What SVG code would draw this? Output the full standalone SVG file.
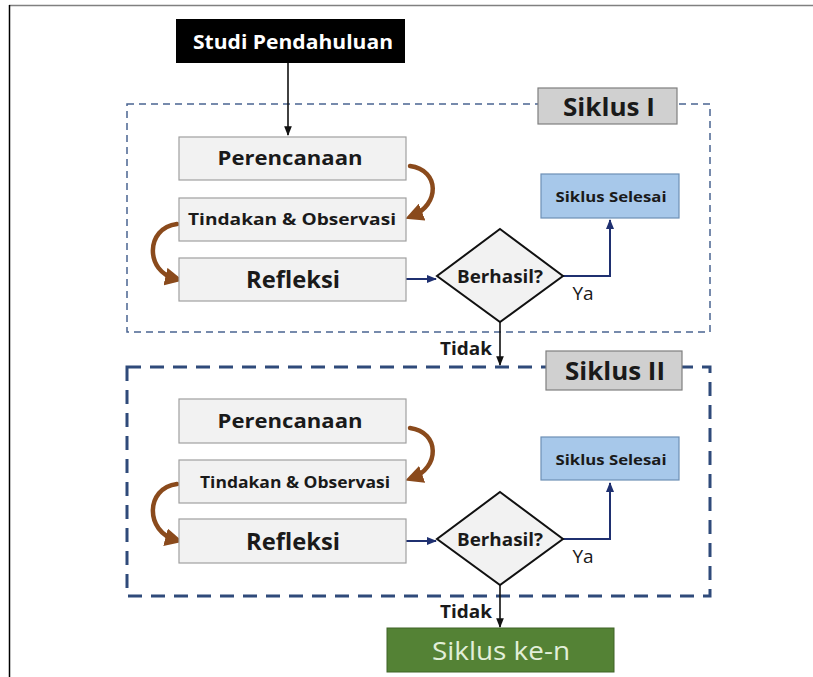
<svg xmlns="http://www.w3.org/2000/svg" width="813" height="677" viewBox="0 0 813 677">
<defs>
<style>
text{font-family:"Open Sans","Noto Sans","Liberation Sans",sans-serif;font-weight:700;fill:#1a1a1a;text-anchor:middle;dominant-baseline:central}
.box{fill:#f2f2f2;stroke:#a0a0a0;stroke-width:1.2}
.lab{fill:#d0d0d0;stroke:#7f7f7f;stroke-width:1.2}
.sel{fill:#a7c8ea;stroke:#6d8fb5;stroke-width:1.2}
.dia{fill:#f2f2f2;stroke:#111;stroke-width:2}
.blue{fill:none;stroke:#1f3070;stroke-width:2}
.blk{fill:none;stroke:#111;stroke-width:1.6}
.brown{fill:none;stroke:#8a4a1c;stroke-width:4.5;stroke-linecap:round}
.reg{font-weight:400}
</style>
<marker id="ab" viewBox="0 0 10 10" refX="9" refY="5" markerWidth="5" markerHeight="5" orient="auto"><path d="M0,1 L10,5 L0,9 z" fill="#1f3070"/></marker>
<marker id="ak" viewBox="0 0 10 10" refX="9" refY="5" markerWidth="6" markerHeight="6" orient="auto"><path d="M0,1 L10,5 L0,9 z" fill="#111"/></marker>
<marker id="ar" viewBox="0 0 10 10" refX="6" refY="5" markerWidth="4" markerHeight="4" orient="auto"><path d="M0,0 L10,5 L0,10 z" fill="#8a4a1c"/></marker>
</defs>
<rect width="813" height="677" fill="#fff"/>
<line x1="9" y1="5.5" x2="813" y2="5.5" stroke="#808080" stroke-width="1.5"/>
<line x1="9.5" y1="5" x2="9.5" y2="677" stroke="#000" stroke-width="1.5"/>

<g id="cycle1-frame">
<rect x="127" y="104" width="583" height="228" fill="none" stroke="#4a6491" stroke-width="1.5" stroke-dasharray="7,5"/>
</g>
<g id="cycle2-frame">
<rect x="127" y="367" width="583" height="229" fill="none" stroke="#2f4a7a" stroke-width="3" stroke-dasharray="14,9"/>
</g>

<g id="connectors">
<line class="blk" x1="288" y1="63" x2="288" y2="135" marker-end="url(#ak)"/>
<path class="brown" d="M410,166 C440,170 440,205 412,216" marker-end="url(#ar)"/>
<path class="brown" d="M177,224 C145,228 145,272 176,279" marker-end="url(#ar)"/>
<line class="blue" x1="406" y1="279" x2="436" y2="279" marker-end="url(#ab)"/>
<polyline class="blue" points="563,276 610,276 610,220" marker-end="url(#ab)"/>
<line class="blk" x1="500" y1="322" x2="500" y2="365" marker-end="url(#ak)"/>
<path class="brown" d="M410,428 C440,432 440,468 412,478" marker-end="url(#ar)"/>
<path class="brown" d="M177,484 C145,488 145,532 176,540" marker-end="url(#ar)"/>
<line class="blue" x1="406" y1="541" x2="436" y2="541" marker-end="url(#ab)"/>
<polyline class="blue" points="563,539 610,539 610,483" marker-end="url(#ab)"/>
<line class="blk" x1="500" y1="585" x2="500" y2="627" marker-end="url(#ak)"/>
<text x="466" y="348" font-size="18" textLength="52" lengthAdjust="spacingAndGlyphs">Tidak</text>
<text x="466" y="611" font-size="18" textLength="52" lengthAdjust="spacingAndGlyphs">Tidak</text>
<text class="reg" x="583" y="293" font-size="19">Ya</text>
<text class="reg" x="583" y="556" font-size="19">Ya</text>
</g>

<g id="studi">
<rect x="176" y="19" width="229" height="44" fill="#000"/>
<text x="293" y="41" font-size="20" style="fill:#fff" textLength="200" lengthAdjust="spacingAndGlyphs">Studi Pendahuluan</text>
</g>

<g id="label1">
<rect class="lab" x="538" y="88" width="139" height="36"/>
<text x="609" y="106" font-size="25" textLength="92" lengthAdjust="spacingAndGlyphs">Siklus I</text>
</g>
<g id="perencanaan1">
<rect class="box" x="179" y="137" width="227" height="43"/>
<text x="290" y="158" font-size="19" textLength="145" lengthAdjust="spacingAndGlyphs">Perencanaan</text>
</g>
<g id="tindakan1">
<rect class="box" x="179" y="198" width="227" height="43"/>
<text x="292" y="219" font-size="16" textLength="208" lengthAdjust="spacingAndGlyphs">Tindakan &amp; Observasi</text>
</g>
<g id="refleksi1">
<rect class="box" x="179" y="258" width="227" height="43"/>
<text x="293" y="279" font-size="23" textLength="94" lengthAdjust="spacingAndGlyphs">Refleksi</text>
</g>
<g id="berhasil1">
<polygon class="dia" points="500,229 563,276 500,322 437,276"/>
<text x="500" y="276" font-size="17" textLength="86" lengthAdjust="spacingAndGlyphs">Berhasil?</text>
</g>
<g id="selesai1">
<rect class="sel" x="541" y="174" width="138" height="44"/>
<text x="611" y="196" font-size="15" textLength="111" lengthAdjust="spacingAndGlyphs">Siklus Selesai</text>
</g>

<g id="label2">
<rect class="lab" x="546" y="351" width="136" height="39"/>
<text x="615" y="370" font-size="25" textLength="100" lengthAdjust="spacingAndGlyphs">Siklus II</text>
</g>
<g id="perencanaan2">
<rect class="box" x="179" y="399" width="227" height="44"/>
<text x="290" y="421" font-size="19" textLength="145" lengthAdjust="spacingAndGlyphs">Perencanaan</text>
</g>
<g id="tindakan2">
<rect class="box" x="179" y="460" width="227" height="43"/>
<text x="295" y="482" font-size="16" textLength="190" lengthAdjust="spacingAndGlyphs">Tindakan &amp; Observasi</text>
</g>
<g id="refleksi2">
<rect class="box" x="179" y="519" width="227" height="44"/>
<text x="293" y="541" font-size="23" textLength="94" lengthAdjust="spacingAndGlyphs">Refleksi</text>
</g>
<g id="berhasil2">
<polygon class="dia" points="500,492 563,539 500,585 437,539"/>
<text x="500" y="539" font-size="17" textLength="86" lengthAdjust="spacingAndGlyphs">Berhasil?</text>
</g>
<g id="selesai2">
<rect class="sel" x="541" y="437" width="138" height="43"/>
<text x="611" y="459" font-size="15" textLength="111" lengthAdjust="spacingAndGlyphs">Siklus Selesai</text>
</g>

<g id="siklus-ke-n">
<rect x="387" y="628" width="227" height="44" fill="#548235" stroke="#3f6327" stroke-width="1"/>
<text class="reg" x="501" y="650" font-size="26" style="fill:#e2efd9" textLength="138" lengthAdjust="spacingAndGlyphs">Siklus ke-n</text>
</g>
</svg>
